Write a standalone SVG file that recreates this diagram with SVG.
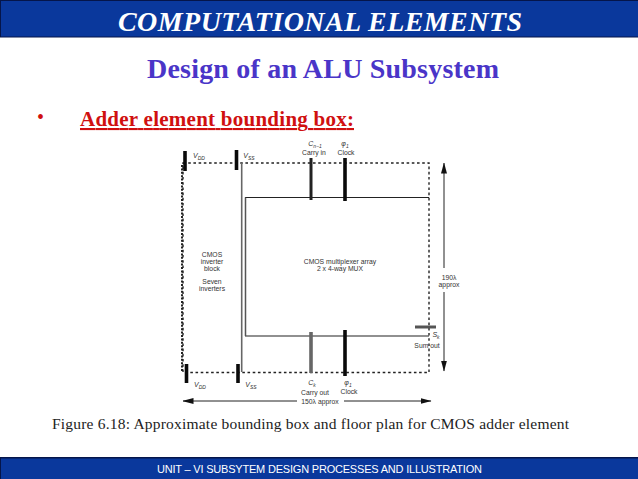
<svg xmlns="http://www.w3.org/2000/svg" width="638" height="479" viewBox="0 0 638 479">
<style>
.serif{font-family:"Liberation Serif","Times New Roman",serif}
.sans{font-family:"Liberation Sans",Arial,sans-serif}
.small{font-family:"Liberation Sans",Arial,sans-serif;font-size:6.8px;fill:#333;text-anchor:middle}
.sym{font-family:"Liberation Sans",Arial,sans-serif;font-size:7px;font-style:italic;fill:#333;text-anchor:middle}
.sub{font-size:5px}
.dot{fill:none;stroke:#222;stroke-width:1.4;stroke-dasharray:2.6 2.6}
.pin{stroke:#0a0a0a;stroke-width:3.6;fill:none}
.thin{stroke:#222;stroke-width:1.1;fill:none}
.dim{stroke:#222;stroke-width:1;fill:none}
</style>
<defs>
<marker id="ah" markerUnits="userSpaceOnUse" markerWidth="11" markerHeight="7" refX="10.5" refY="3" orient="auto"><path d="M0 0L11 3L0 6Z" fill="#111"/></marker>
</defs>
<rect width="638" height="479" fill="#fff"/>
<g id="header">
<rect x="0" y="0" width="638" height="37.5" fill="#05154a"/>
<rect x="1" y="1" width="637" height="35.5" fill="#0a389c"/>
<text class="serif" x="320" y="31" font-size="28" font-weight="bold" font-style="italic" fill="#fff" text-anchor="middle" textLength="404" lengthAdjust="spacing">COMPUTATIONAL ELEMENTS</text>
</g>
<g id="headings">
<text class="serif" x="323" y="78" font-size="28" font-weight="bold" fill="#4a35c8" text-anchor="middle" textLength="352" lengthAdjust="spacing">Design of an ALU Subsystem</text>
<text class="serif" x="37" y="124" font-size="20" fill="#d01010">•</text>
<text class="serif" x="80" y="126" font-size="21" font-weight="bold" fill="#d01010" text-decoration="underline" textLength="274" lengthAdjust="spacing">Adder element bounding box:</text>
</g>
<g id="connectors">
<path class="dot" d="M183 163H429V372.5H183Z"/>
<path d="M182 165V372" fill="none" stroke="#222" stroke-width="2" stroke-dasharray="2 1.4"/>
<path d="M241.7 163V372" fill="none" stroke="#666" stroke-width="1.6"/>
<path class="thin" d="M429 197.5H245.5V336H429"/>
<path d="M245.5 197.5V336" fill="none" stroke="#555" stroke-width="1.4"/>
<path class="dim" d="M444 268V163" marker-end="url(#ah)"/>
<path class="dim" d="M444 292V371" marker-end="url(#ah)"/>
<path class="dim" d="M297 401H183" marker-end="url(#ah)"/>
<path class="dim" d="M344 401H431" marker-end="url(#ah)"/>
</g>
<g id="pin-vdd-top"><path class="pin" d="M185 151V171"/><text class="sym" x="199" y="158">V<tspan class="sub" dy="1.5">DD</tspan></text></g>
<g id="pin-vss-top"><path class="pin" d="M236.5 150V170"/><text class="sym" x="249" y="158">V<tspan class="sub" dy="1.5">SS</tspan></text></g>
<g id="pin-carry-in"><path class="pin" style="stroke:#222;stroke-width:3" d="M311 158V200"/><text class="sym" x="315" y="146">C<tspan class="sub" dy="1.5">n−1</tspan></text><text class="small" x="314" y="155">Carry in</text></g>
<g id="pin-clock-top"><path class="pin" d="M345 158V201"/><text class="sym" x="345" y="146">φ<tspan class="sub" dy="1.5">1</tspan></text><text class="small" x="346" y="155">Clock</text></g>
<g id="pin-vdd-bottom"><path class="pin" d="M186.5 364V383"/><text class="sym" x="200" y="387">V<tspan class="sub" dy="1.5">DD</tspan></text></g>
<g id="pin-vss-bottom"><path class="pin" d="M238 364V383"/><text class="sym" x="251" y="387">V<tspan class="sub" dy="1.5">SS</tspan></text></g>
<g id="pin-carry-out"><path class="pin" style="stroke:#666" d="M311 332V373"/><text class="sym" x="312" y="385">C<tspan class="sub" dy="1.5">k</tspan></text><text class="small" x="315" y="395">Carry out</text></g>
<g id="pin-clock-bottom"><path class="pin" d="M345 330V376"/><text class="sym" x="348" y="385">φ<tspan class="sub" dy="1.5">1</tspan></text><text class="small" x="349" y="394">Clock</text></g>
<g id="pin-sum"><path d="M415 327H436" stroke="#555" stroke-width="3" fill="none"/><text class="sym" x="436" y="337">S<tspan class="sub" dy="1.5">k</tspan></text><text class="small" x="427" y="348">Sum out</text></g>
<g id="inverter-block">
<text class="small" x="212" y="257">CMOS</text>
<text class="small" x="212" y="264">inverter</text>
<text class="small" x="212" y="271">block</text>
<text class="small" x="212" y="284">Seven</text>
<text class="small" x="212" y="291">inverters</text>
</g>
<g id="mux-array">
<text class="small" x="340" y="264">CMOS multiplexer array</text>
<text class="small" x="340" y="271">2 x 4-way MUX</text>
</g>
<g id="dimensions">
<text class="small" x="449" y="280">190λ</text>
<text class="small" x="449" y="287">approx</text>
<text class="small" x="320" y="404">150λ approx</text>
</g>
<g id="caption">
<text class="serif" x="52" y="429" font-size="15.5" fill="#222" textLength="517" lengthAdjust="spacing">Figure 6.18: Approximate bounding box and floor plan for CMOS adder element</text>
</g>
<g id="footer">
<rect x="0" y="457" width="638" height="22" fill="#05154a"/>
<rect x="1" y="458.5" width="637" height="20.5" fill="#0a389c"/>
<text class="sans" x="157" y="473" font-size="11" fill="#fff" textLength="325" lengthAdjust="spacing">UNIT – VI SUBSYTEM DESIGN PROCESSES AND ILLUSTRATION</text>
</g>
</svg>
